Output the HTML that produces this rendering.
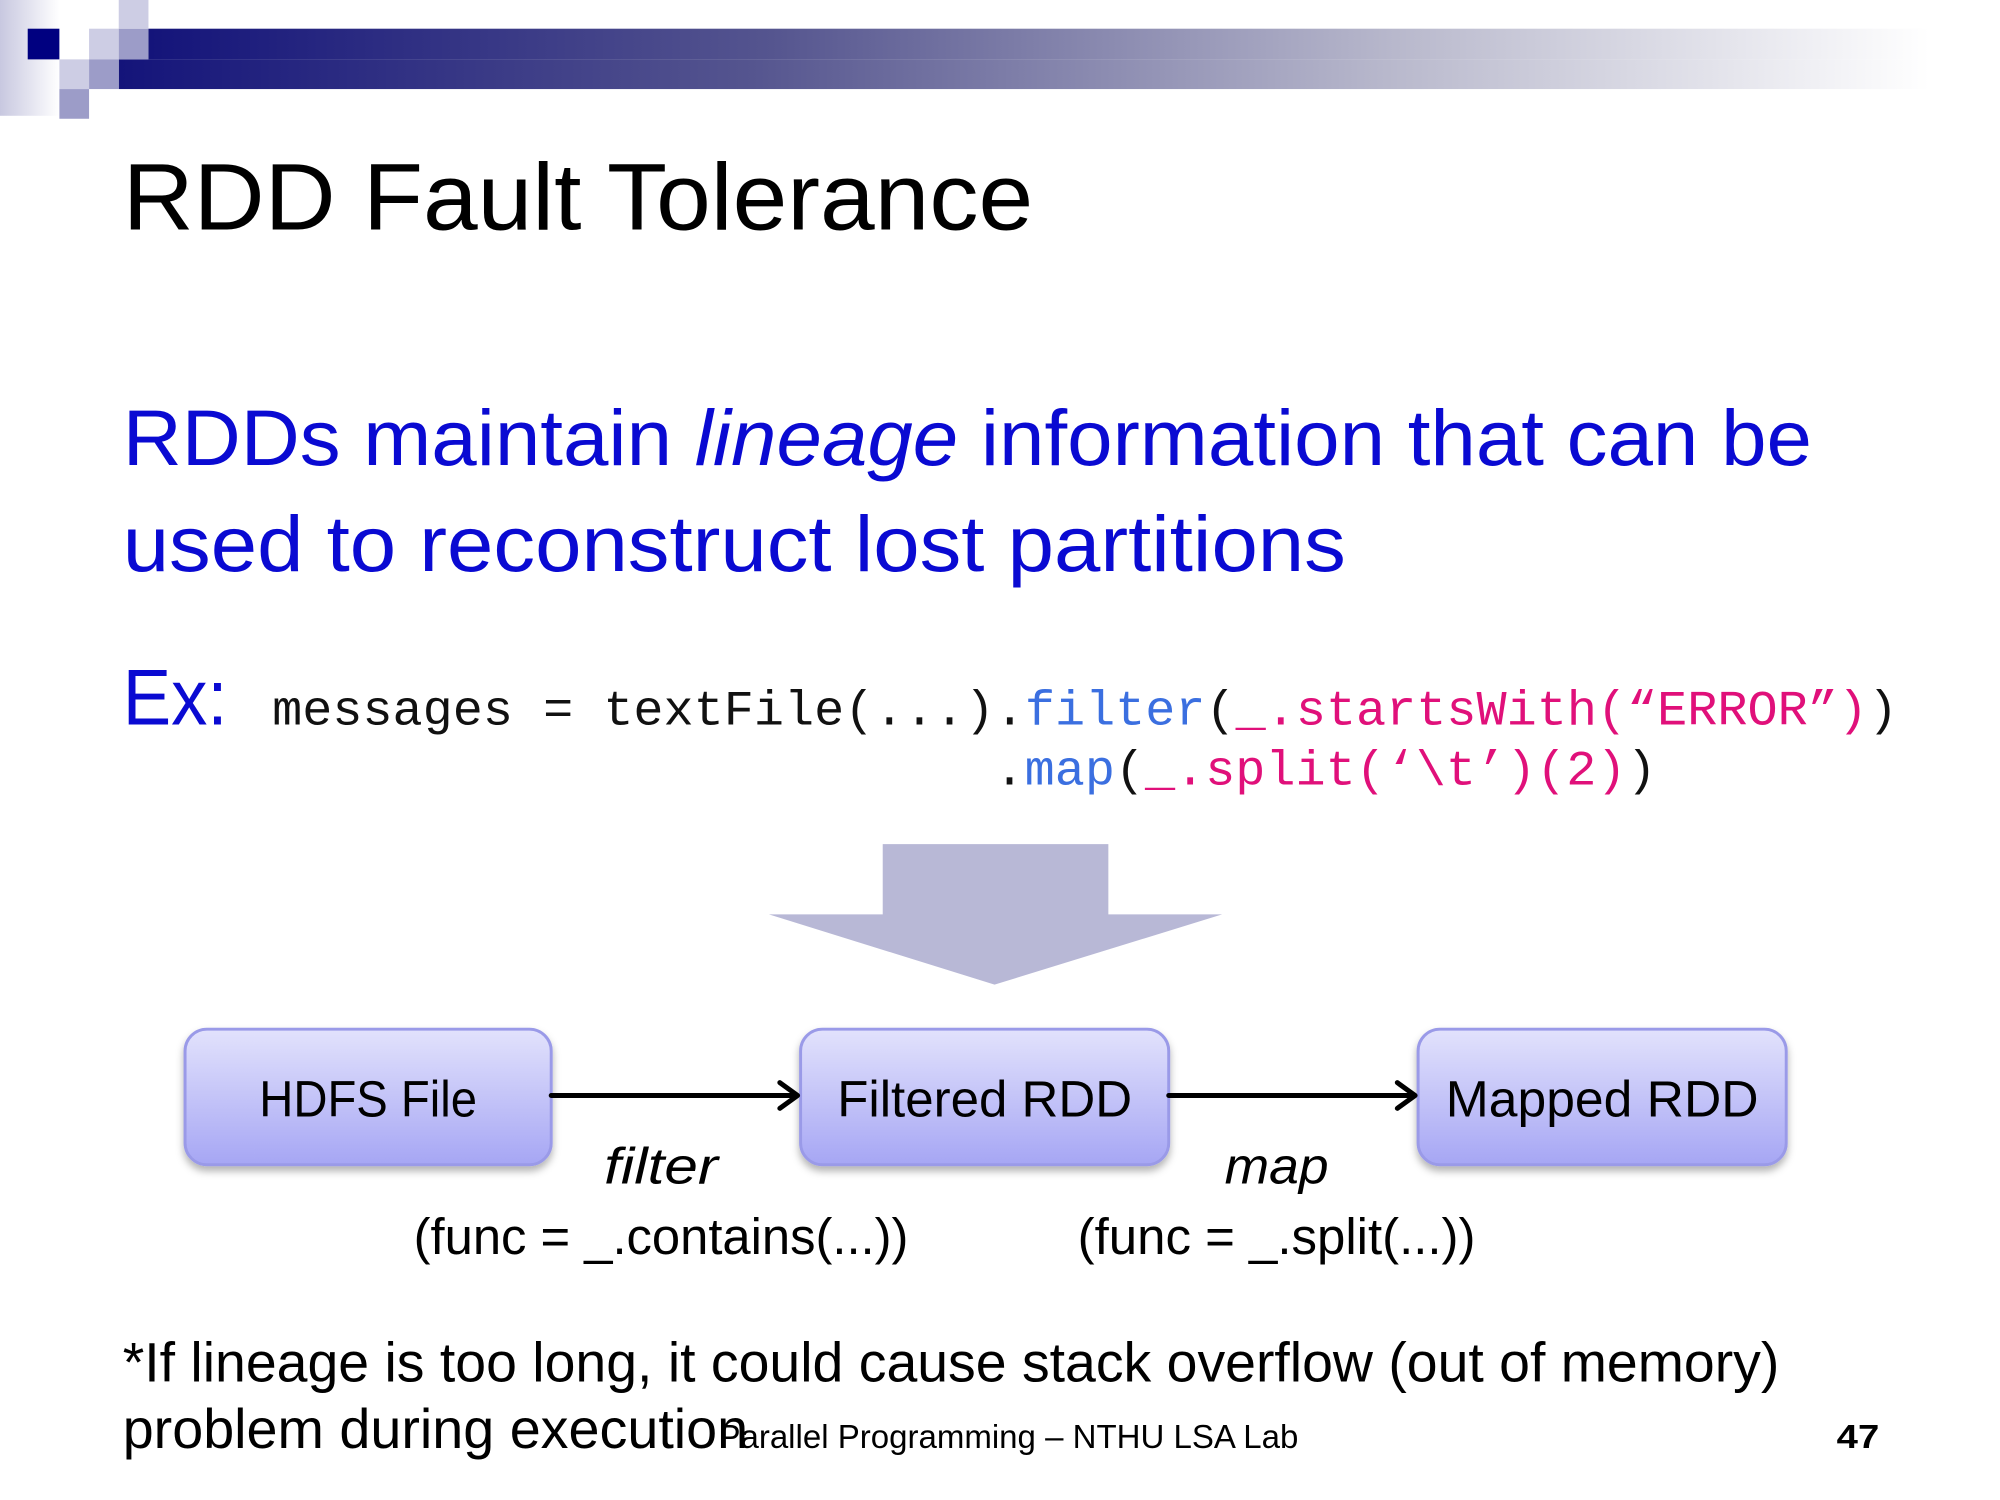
<!DOCTYPE html>
<html><head><meta charset="utf-8"><style>html,body{margin:0;padding:0;background:#fff}svg{display:block}</style></head>
<body>
<svg width="2000" height="1500" viewBox="0 0 2000 1500" xmlns="http://www.w3.org/2000/svg">
<defs>
<linearGradient id="bar" x1="0" x2="1" y1="0" y2="0">
<stop offset="0" stop-color="#14147a"/><stop offset="0.35" stop-color="#55558f"/><stop offset="0.7" stop-color="#b8b8cc"/><stop offset="1" stop-color="#ffffff"/></linearGradient>
<linearGradient id="side" x1="0" x2="1" y1="0" y2="0">
<stop offset="0" stop-color="#c8c8e0"/><stop offset="1" stop-color="#ffffff"/></linearGradient>
<linearGradient id="box" x1="0" x2="0" y1="0" y2="1">
<stop offset="0" stop-color="#e2e2fc"/><stop offset="1" stop-color="#a6a6f4"/></linearGradient>
<filter id="sh" x="-10%" y="-10%" width="120%" height="130%"><feDropShadow dx="0" dy="5" stdDeviation="4" flood-color="#000" flood-opacity="0.3"/></filter>
</defs>
<g transform="scale(0.9896)">
<rect x="0" y="0" width="60" height="117" fill="url(#side)"/>
<rect x="150" y="29" width="1800" height="31" fill="url(#bar)"/>
<rect x="120" y="60" width="1830" height="30" fill="url(#bar)"/>
<rect x="28" y="29" width="32" height="31" fill="#000080"/>
<rect x="90" y="29" width="30" height="31" fill="#cdcde4"/>
<rect x="120" y="29" width="30" height="31" fill="#9c9cc8"/>
<rect x="120" y="0" width="30" height="29" fill="#cdcde4"/>
<rect x="60" y="60" width="30" height="30" fill="#cdcde4"/>
<rect x="90" y="60" width="30" height="30" fill="#9c9cc8"/>
<rect x="60" y="90" width="30" height="30" fill="#9c9cc8"/>

<g font-family="Liberation Sans, sans-serif">
<text x="124" y="232" font-size="96" fill="#000" textLength="920" lengthAdjust="spacingAndGlyphs">RDD Fault Tolerance</text>
<text x="124" y="470" font-size="80" fill="#0a0ad2" textLength="1707" lengthAdjust="spacingAndGlyphs">RDDs maintain <tspan font-style="italic">lineage</tspan> information that can be</text>
<text x="124" y="577" font-size="80" fill="#0a0ad2" textLength="1236" lengthAdjust="spacingAndGlyphs">used to reconstruct lost partitions</text>
<text x="124" y="732" font-size="80" fill="#0a0ad2" textLength="106" lengthAdjust="spacingAndGlyphs">Ex:</text>
</g>
<g font-family="Liberation Mono, monospace" font-size="50">
<text x="275" y="732" textLength="1643" lengthAdjust="spacingAndGlyphs" fill="#111">messages = textFile(...).<tspan fill="#3b6fe0">filter</tspan>(<tspan fill="#e0107a">_.startsWith(“ERROR”)</tspan>)</text>
<text x="1005" y="793" textLength="669" lengthAdjust="spacingAndGlyphs" fill="#111">.<tspan fill="#3b6fe0">map</tspan>(<tspan fill="#e0107a">_.split(‘\t’)(2)</tspan>)</text>
</g>

<polygon points="892,853 1120,853 1120,924 1235,924 1005,995 777,924 892,924" fill="#b8b8d6"/>

<g filter="url(#sh)">
<rect x="187" y="1040" width="370" height="137" rx="22" fill="url(#box)" stroke="#9a9ae8" stroke-width="3"/>
<rect x="809" y="1040" width="372" height="137" rx="22" fill="url(#box)" stroke="#9a9ae8" stroke-width="3"/>
<rect x="1433" y="1040" width="372" height="137" rx="22" fill="url(#box)" stroke="#9a9ae8" stroke-width="3"/>
</g>
<g font-family="Liberation Sans, sans-serif" font-size="52" fill="#000" text-anchor="middle">
<text x="372" y="1128" textLength="220" lengthAdjust="spacingAndGlyphs">HDFS File</text>
<text x="995" y="1128" textLength="298" lengthAdjust="spacingAndGlyphs">Filtered RDD</text>
<text x="1619" y="1128" textLength="316" lengthAdjust="spacingAndGlyphs">Mapped RDD</text>
<text x="668" y="1196" font-style="italic" textLength="115" lengthAdjust="spacingAndGlyphs">filter</text>
<text x="668" y="1267" textLength="500" lengthAdjust="spacingAndGlyphs">(func = _.contains(...))</text>
<text x="1290" y="1196" font-style="italic" textLength="105" lengthAdjust="spacingAndGlyphs">map</text>
<text x="1290" y="1267" textLength="402" lengthAdjust="spacingAndGlyphs">(func = _.split(...))</text>
</g>
<g stroke="#000" stroke-width="5" fill="none" stroke-linecap="round" stroke-linejoin="round">
<line x1="557" y1="1107" x2="805" y2="1107"/><polyline points="788,1094 806,1107 788,1120"/>
<line x1="1181" y1="1107" x2="1429" y2="1107"/><polyline points="1412,1094 1430,1107 1412,1120"/>
</g>
<g font-family="Liberation Sans, sans-serif" fill="#000">
<text x="124" y="1396" font-size="56" textLength="1674" lengthAdjust="spacingAndGlyphs">*If lineage is too long, it could cause stack overflow (out of memory)</text>
<text x="124" y="1463" font-size="56" textLength="632" lengthAdjust="spacingAndGlyphs">problem during execution</text>
<text x="726" y="1463" font-size="34" textLength="586" lengthAdjust="spacingAndGlyphs">Parallel Programming – NTHU LSA Lab</text>
<text x="1856" y="1463" font-size="34" font-weight="bold" textLength="43" lengthAdjust="spacingAndGlyphs">47</text>
</g>
</g>
</svg>
</body></html>
